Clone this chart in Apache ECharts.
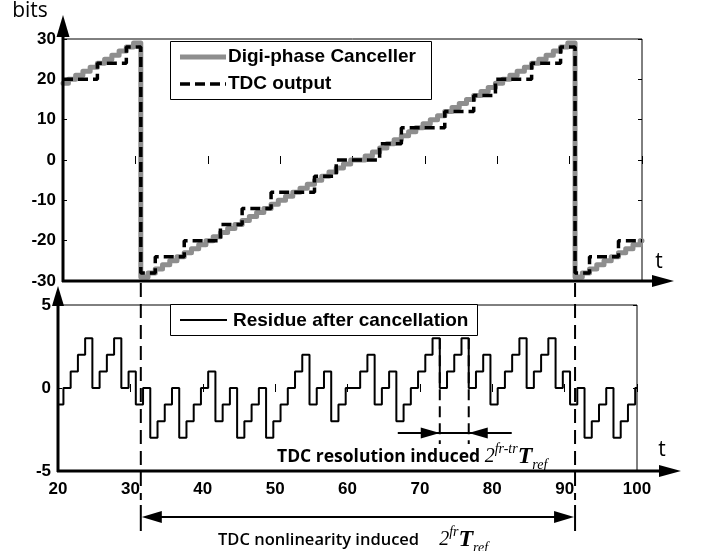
<!DOCTYPE html>
<html>
<head>
<meta charset="utf-8">
<script src="https://cdn.jsdelivr.net/npm/echarts@6/dist/echarts.min.js"></script>
<style>
  html, body { margin: 0; padding: 0; background: #fff; }
  #chart { width: 702px; height: 551px; }
</style>
</head>
<body>
<div id="chart"></div>
<script>
// step edges (time), one sample per unit of t
var stepT = [20,
  20.75, 21.75, 22.75, 23.75, 24.75, 25.75, 26.75, 27.75, 28.75, 29.75,
  30.75, 31.75, 32.75, 33.75, 34.75, 35.75, 36.75, 37.75, 38.75, 39.75,
  40.75, 41.75, 42.75, 43.75, 44.75, 45.75, 46.75, 47.75, 48.75, 49.75,
  50.75, 51.75, 52.75, 53.75, 54.75, 55.75, 56.75, 57.75, 58.75, 59.75,
  60.75, 61.75, 62.75, 63.75, 64.75, 65.75, 66.75, 67.75, 68.75, 69.75,
  70.75, 71.75, 72.75, 73.75, 74.75, 75.75, 76.75, 77.75, 78.75, 79.75,
  80.75, 81.75, 82.75, 83.75, 84.75, 85.75, 86.75, 87.75, 88.75, 89.75,
  90.75, 91.75, 92.75, 93.75, 94.75, 95.75, 96.75, 97.75, 98.75, 99.75];

// Digi-phase canceller (bits)
var canceller = [19,
  20, 21, 22, 23, 24, 25, 26, 27, 28, 29,
  -29, -28, -27, -26, -25, -24, -23, -22, -21, -20,
  -19, -18, -17, -16, -15, -14, -13, -12, -11, -10,
  -9, -8, -7, -6, -5, -4, -3, -2, -1, 0,
  0, 1, 2, 3, 4, 5, 6, 7, 8, 9,
  10, 11, 12, 13, 14, 15, 16, 17, 18, 19,
  20, 21, 22, 23, 24, 25, 26, 27, 28, 29,
  -29, -28, -27, -26, -25, -24, -23, -22, -21, -20];

// residue after cancellation
var residue = [-1,
  0, 1, 2, 3, 0, 1, 2, 3, 0, 1,
  -1, 0, -3, -2, -1, 0, -3, -2, -1, 0,
  1, -2, -1, 0, -3, -2, -1, 0, -3, -2,
  -1, 0, 1, 2, -1, 0, 1, -2, -1, 0,
  0, 1, 2, -1, 0, 1, -2, -1, 0, 1,
  2, 3, 0, 1, 2, 3, 0, 1, 2, -1,
  0, 1, 2, 3, 0, 1, 2, 3, 0, 1,
  -1, 0, -3, -2, -1, 0, -3, -2, -1, 0];

// TDC output: level changes
var tdcT     = [20, 24.75, 28.75, 30.75, 32.75, 36.75, 41.75, 44.75, 48.75, 54.75, 57.75,
                63.75, 66.75, 72.75, 76.75, 79.75, 84.75, 88.75, 90.75, 92.75, 96.75, 100];
var tdcLevel = [20, 24, 28, -28, -24, -20, -16, -12, -8, -4, 0,
                4, 8, 12, 16, 20, 24, 28, -28, -24, -20, -20];

var wrapT = [30.75, 90.75];      // sawtooth wrap (nonlinearity span)
var resT = [72.75, 76.75];       // one TDC step (resolution span)

var GRAY = '#8e8e8e';

function pairs(ts, vs, tEnd) {
  var out = [];
  for (var i = 0; i < ts.length; i++) out.push([ts[i], vs[i]]);
  if (tEnd != null) out.push([tEnd, vs[vs.length - 1]]);
  return out;
}

var chart = echarts.init(document.getElementById('chart'), null, { renderer: 'canvas' });

var boldLabel = { fontFamily: 'Liberation Sans, Arial, sans-serif', fontWeight: 'bold', fontSize: 17, color: '#000' };
var legendFont = 'bold 19px Liberation Sans, Arial, sans-serif';
var tickOnly = {
  axisLine: { show: false },
  axisTick: { show: true, inside: true, length: 4, lineStyle: { color: '#000', width: 1 } },
  axisLabel: { show: false },
  splitLine: { show: false }
};

function xAx(grid, pos, labels) {
  return Object.assign({ type: 'value', gridIndex: grid, position: pos, min: 20, max: 100, interval: 10 }, tickOnly,
    labels ? { axisLabel: Object.assign({ show: true, margin: 10 }, boldLabel) } : {});
}
function yAx(grid, pos, mn, mx, step, labels) {
  return Object.assign({ type: 'value', gridIndex: grid, position: pos, min: mn, max: mx, interval: step }, tickOnly,
    labels ? { axisLabel: Object.assign({ show: true, margin: 7 }, boldLabel) } : {});
}

chart.setOption({
  animation: false,
  grid: [
    { left: 63, top: 39, width: 579, height: 242, show: true, borderColor: '#000', borderWidth: 1 },
    { left: 58, top: 305, width: 579, height: 166, show: true, borderColor: '#000', borderWidth: 1 }
  ],
  xAxis: [xAx(0, 'bottom', false), xAx(0, 'top', false), xAx(1, 'bottom', true), xAx(1, 'top', false)],
  yAxis: [yAx(0, 'left', -30, 30, 10, true), yAx(0, 'right', -30, 30, 10, false),
          yAx(1, 'left', -5, 5, 5, true), yAx(1, 'right', -5, 5, 5, false)],
  series: [
    {
      name: 'Digi-phase Canceller', type: 'line', xAxisIndex: 0, yAxisIndex: 0,
      step: 'end', symbol: 'none', showSymbol: false, z: 2,
      data: pairs(stepT, canceller, 100),
      lineStyle: { color: GRAY, width: 5, join: 'round', cap: 'round' }
    },
    {
      name: 'TDC output', type: 'line', xAxisIndex: 0, yAxisIndex: 0,
      step: 'end', symbol: 'none', showSymbol: false, z: 3,
      data: pairs(tdcT, tdcLevel),
      lineStyle: { color: '#000', width: 3.5, type: [10, 5] }
    },
    {
      name: 'Residue after cancellation', type: 'line', xAxisIndex: 2, yAxisIndex: 2,
      step: 'end', symbol: 'none', showSymbol: false, z: 3,
      data: pairs(stepT, residue, 100),
      lineStyle: { color: '#000', width: 2 }
    }
  ]
});

// annotations: axes with arrows, legends, dashed markers, span arrows, labels
var gTop = { xAxisIndex: 0, yAxisIndex: 0 };
var gBot = { xAxisIndex: 2, yAxisIndex: 2 };
var tl = chart.convertToPixel(gTop, [20, -30]);
var bl = chart.convertToPixel(gBot, [20, -5]);

function line(x1, y1, x2, y2, w, dash, color) {
  return { type: 'line', z: 10, shape: { x1: x1, y1: y1, x2: x2, y2: y2 },
    style: { stroke: color || '#000', lineWidth: w, lineDash: dash || null } };
}
function head(tipX, tipY, dir, len, half) {
  var p;
  if (dir === 'up') p = [[tipX, tipY], [tipX - half, tipY + len], [tipX + half, tipY + len]];
  else if (dir === 'right') p = [[tipX, tipY], [tipX - len, tipY - half], [tipX - len, tipY + half]];
  else p = [[tipX, tipY], [tipX + len, tipY - half], [tipX + len, tipY + half]];
  return { type: 'polygon', z: 11, shape: { points: p }, style: { fill: '#000' } };
}
function text(x, y, txt, font, align) {
  return { type: 'text', z: 12, x: x, y: y,
    style: { text: txt, font: font, fill: '#000', align: align || 'center', verticalAlign: 'middle' } };
}
function box(x, y, w, h) {
  return { type: 'rect', z: 9, shape: { x: x + 0.5, y: y + 0.5, width: w, height: h },
    style: { fill: '#fff', stroke: '#000', lineWidth: 1 } };
}

var g = [];
// top plot axes
g.push(line(tl[0], tl[1] + 1, tl[0], 34, 3));
g.push(head(tl[0], 15, 'up', 22, 6.5));
g.push(line(tl[0] - 1, tl[1], 655, tl[1], 3));
g.push(head(674, tl[1], 'right', 22, 6));
// bottom plot axes
g.push(line(bl[0], bl[1] + 1, bl[0], 300, 3));
g.push(head(bl[0], 286, 'up', 20, 6));
g.push(line(bl[0] - 1, bl[1], 662, bl[1], 3));
g.push(head(681, bl[1], 'right', 22, 6));

g.push(text(30, 11, 'bits', '21px Open Sans, sans-serif'));
g.push(text(659, 262, 't', '21px Open Sans, sans-serif'));
g.push(text(662, 450, 't', '21px Open Sans, sans-serif'));

// legends
g.push(box(170, 41, 261, 58));
g.push(line(180, 57, 226, 57, 5, null, GRAY));
g.push(text(228, 57, 'Digi-phase Canceller', legendFont, 'left'));
g.push(line(180, 84, 226, 84, 3.5, [10, 5]));
g.push(text(228, 84, 'TDC output', legendFont, 'left'));
g.push(box(170, 304, 307, 31));
g.push(line(180, 320, 227, 320, 2));
g.push(text(233, 321, 'Residue after cancellation', legendFont, 'left'));

// nonlinearity span: dashed markers at the sawtooth wraps
var wx = wrapT.map(function (t) { return chart.convertToPixel(gTop, [t, 0])[0]; });
wx.forEach(function (x) {
  g.push(line(x, tl[1] + 2, x, 500, 2, [14, 7]));
  g.push(line(x, 505, x, 531, 2));
});
g.push(line(wx[0] + 10, 517, wx[1] - 10, 517, 2));
g.push(head(wx[0] + 1, 517, 'left', 20, 6));
g.push(head(wx[1] - 1, 517, 'right', 20, 6));

// resolution span
var rx = resT.map(function (t) { return chart.convertToPixel(gBot, [t, 0])[0]; });
var rTop = chart.convertToPixel(gBot, [resT[0], 3])[1];
rx.forEach(function (x) { g.push(line(x, rTop, x, 444, 2, [11, 6])); });
g.push(line(rx[0] - 42, 433, rx[1] + 43, 433, 2));
g.push(head(rx[0], 433, 'right', 19, 5.5));
g.push(head(rx[1], 433, 'left', 19, 5.5));

var mathRich = {
  a: { font: 'bold 17.5px Open Sans, sans-serif', lineHeight: 30, verticalAlign: 'middle' },
  b: { font: '600 16.5px Open Sans, sans-serif', lineHeight: 30, verticalAlign: 'middle' },
  gap: { width: 20, lineHeight: 30 },
  n: { font: 'italic 20px Liberation Serif, serif', lineHeight: 30, verticalAlign: 'middle' },
  sup: { font: 'italic 14px Liberation Serif, serif', lineHeight: 16, verticalAlign: 'top' },
  T: { font: 'italic bold 24px Liberation Serif, serif', lineHeight: 30, verticalAlign: 'middle' },
  sub: { font: 'italic 14px Liberation Serif, serif', lineHeight: 16, verticalAlign: 'bottom' }
};
g.push({ type: 'text', z: 12, x: 277, y: 457,
  style: { text: '{a|TDC resolution induced }{n|2}{sup|fr-tr}{T|T}{sub|ref}', rich: mathRich,
    fill: '#000', align: 'left', verticalAlign: 'middle' } });
g.push({ type: 'text', z: 12, x: 218, y: 540,
  style: { text: '{b|TDC nonlinearity induced}{gap| }{n|2}{sup|fr}{T|T}{sub|ref}', rich: mathRich,
    fill: '#000', align: 'left', verticalAlign: 'middle' } });

chart.setOption({ graphic: g });
</script>
</body>
</html>
